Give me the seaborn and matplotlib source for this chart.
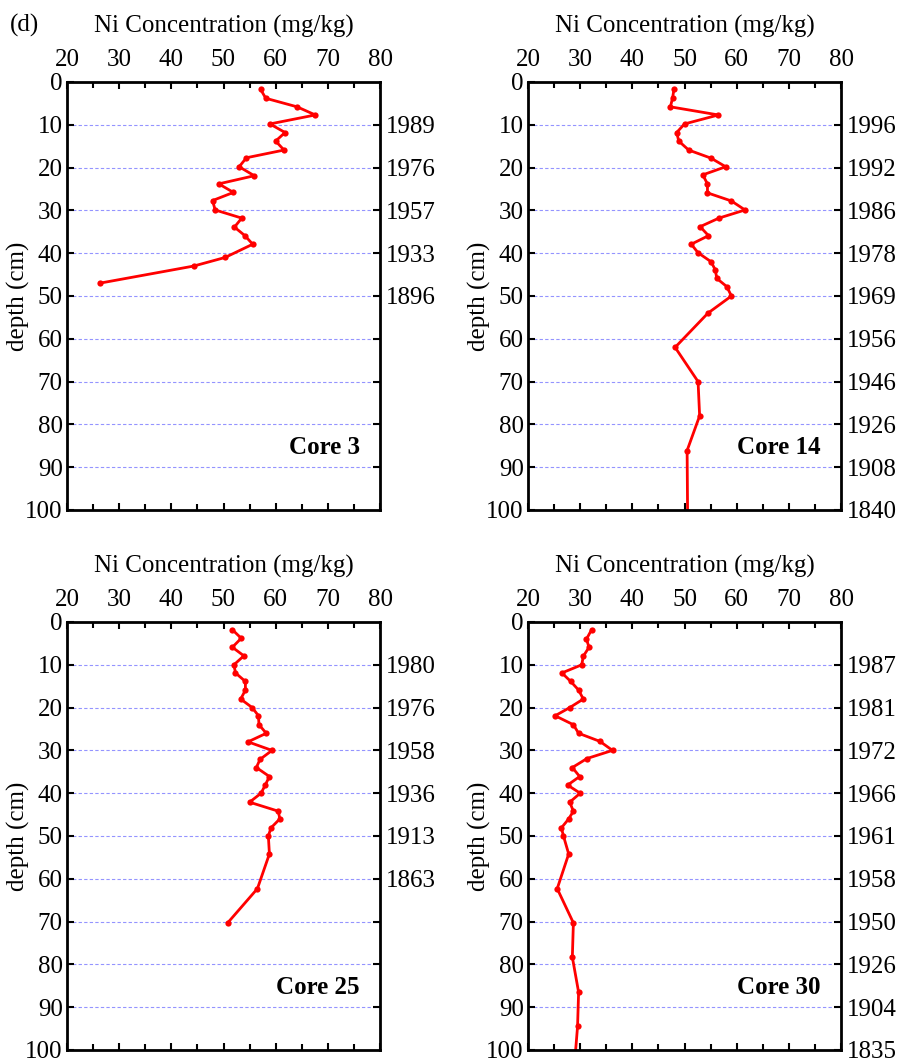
import matplotlib
matplotlib.use('Agg')
import matplotlib.pyplot as plt
import seaborn as sns
from matplotlib.ticker import MultipleLocator

# Core 3
depth_c3 = [1.7, 3.8, 5.8, 7.7, 9.8, 11.8, 13.8, 15.9, 17.7, 19.8, 21.9, 23.8, 25.8,
            27.7, 29.9, 31.8, 33.9, 35.9, 37.9, 41.0, 43.0, 47.0]
ni_c3 = [57.1, 58.1, 64.1, 67.6, 58.9, 61.8, 60.0, 61.6, 54.4, 53.0, 55.9, 49.1, 51.9,
         47.9, 48.4, 53.5, 52.1, 54.1, 55.6, 50.3, 44.3, 26.3]
years_c3 = ['1989', '1976', '1957', '1933', '1896', '', '', '', '']

# Core 14
depth_c14 = [1.6, 3.8, 5.8, 7.7, 9.8, 11.8, 13.8, 15.9, 17.8, 19.8, 21.7, 23.8, 25.9,
             27.8, 29.9, 31.8, 33.8, 35.9, 37.9, 39.9, 42.0, 43.9, 45.9, 47.8, 50.0,
             54.0, 62.0, 70.0, 78.0, 86.1, 102.0]
ni_c14 = [48.0, 47.7, 47.3, 56.5, 50.0, 48.5, 48.9, 50.8, 55.1, 57.9, 53.5, 54.4, 54.4,
          59.0, 61.6, 56.6, 53.0, 54.6, 51.3, 52.6, 55.1, 55.9, 56.2, 58.1, 59.0,
          54.5, 48.2, 52.6, 52.9, 50.5, 50.6]
years_c14 = ['1996', '1992', '1986', '1978', '1969', '1956', '1946', '1926', '1908', '1840']

# Core 25
depth_c25 = [1.8, 3.8, 5.9, 7.9, 10.0, 11.9, 13.9, 15.9, 18.0, 20.0, 21.9, 24.0, 26.0,
             28.0, 30.0, 32.1, 34.0, 36.1, 38.1, 40.0, 42.1, 44.2, 46.0, 48.1, 50.0,
             54.2, 62.3, 70.3]
ni_c25 = [51.7, 53.4, 51.7, 53.9, 52.0, 52.3, 54.2, 54.2, 53.3, 55.5, 56.7, 56.8, 58.2,
          54.7, 59.3, 57.0, 56.3, 58.8, 58.0, 57.2, 55.0, 60.5, 60.8, 59.1, 58.6,
          58.8, 56.5, 50.8]
years_c25 = ['1980', '1976', '1958', '1936', '1913', '1863', '', '', '']

# Core 30
depth_c30 = [1.8, 4.0, 5.9, 8.0, 10.0, 11.9, 13.9, 15.9, 18.0, 20.0, 21.9, 24.0, 26.0,
             27.9, 30.0, 31.9, 34.0, 36.1, 38.1, 40.0, 42.1, 44.2, 46.0, 48.1, 50.0,
             54.2, 62.3, 70.3, 78.3, 86.5, 94.5, 102.0]
ni_c30 = [32.2, 31.2, 31.7, 30.6, 30.3, 26.5, 28.2, 29.7, 30.6, 28.0, 25.2, 28.7, 29.7,
          33.8, 36.2, 31.3, 28.5, 29.9, 27.6, 30.0, 28.0, 28.7, 27.8, 26.4, 26.8,
          27.8, 25.6, 28.7, 28.5, 29.7, 29.5, 29.0]
years_c30 = ['1987', '1981', '1972', '1966', '1961', '1958', '1950', '1926', '1904', '1835']

cores = [('Core 3', depth_c3, ni_c3, years_c3),
         ('Core 14', depth_c14, ni_c14, years_c14),
         ('Core 25', depth_c25, ni_c25, years_c25),
         ('Core 30', depth_c30, ni_c30, years_c30)]

sns.set_style('ticks')
plt.rcParams['font.family'] = ['Liberation Serif', 'DejaVu Serif']
plt.rcParams['font.size'] = 18
for k in ['text.color', 'axes.labelcolor', 'xtick.color', 'ytick.color', 'axes.edgecolor']:
    plt.rcParams[k] = 'black'

fig = plt.figure(figsize=(9.01, 10.63), dpi=100)
W, H = 901, 1063
boxes = [(67, 82), (528, 82), (67, 622), (528, 622)]

for (name, depth, ni, years), (lx, ty) in zip(cores, boxes):
    ax = fig.add_axes([lx / W, 1 - (ty + 428) / H, 313 / W, 428 / H])
    # 虛線格線
    for d in range(10, 100, 10):
        ax.axhline(d, color='#7a7aff', ls=(0, (3, 2)), lw=0.8, alpha=0.8, zorder=0)
    sns.lineplot(x=ni, y=depth, ax=ax, sort=False, estimator=None, color='red',
                 lw=2, marker='o', markersize=4.5, markeredgewidth=0)
    ax.set_xlim(20, 80)
    ax.set_ylim(100, 0)
    ax.xaxis.set_major_locator(MultipleLocator(10))
    ax.xaxis.set_minor_locator(MultipleLocator(5))
    ax.set_yticks(range(0, 101, 10))
    ax.xaxis.tick_top()
    ax.xaxis.set_label_position('top')
    ax.tick_params(which='both', direction='in', top=True, bottom=True, left=True,
                   right=False, labelbottom=False, width=1.5)
    ax.tick_params(axis='x', which='both', pad=8)
    ax.tick_params(axis='y', pad=3)
    ax.tick_params(which='major', length=5)
    ax.tick_params(which='minor', length=4)
    ax.set_xlabel('Ni Concentration (mg/kg)', labelpad=12)
    ax.set_ylabel('depth (cm)')
    ax.yaxis.set_label_coords(-0.118, 0.5)
    for sp in ax.spines.values():
        sp.set_linewidth(2)
        sp.set_visible(True)
    ax.text(0.935, 0.147, name, transform=ax.transAxes, ha='right', va='center',
            fontweight='bold')

    ax2 = ax.twinx()
    ax2.set_ylim(100, 0)
    ax2.set_yticks(range(10, 10 * len(years) + 1, 10))
    ax2.set_yticklabels(years)
    ax2.tick_params(direction='in', length=5, width=1.5, pad=4)
    for sp in ax2.spines.values():
        sp.set_visible(False)

fig.text(10 / W, 1 - 25 / H, '(d)', ha='left', va='center', fontsize=18)

fig.savefig('out.png', dpi=100)
